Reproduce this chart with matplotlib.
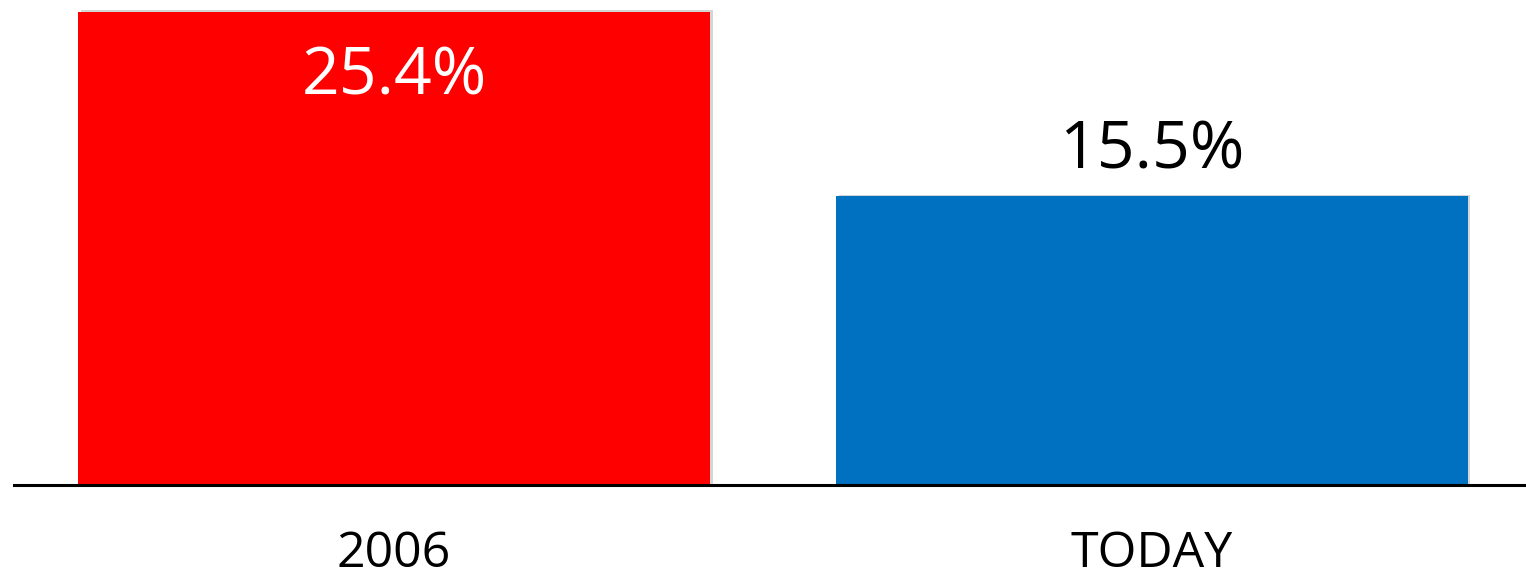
import matplotlib
matplotlib.use("Agg")
import matplotlib.pyplot as plt
import matplotlib.patheffects as pe

# datos del grafico
categorias = ["2006", "TODAY"]
valores = [25.4, 15.5]
etiquetas = ["25.4%", "15.5%"]
colores = ["#FF0000", "#0070C0"]

plt.rcParams["font.family"] = ["Open Sans", "DejaVu Sans"]

fig = plt.figure(figsize=(15.26, 5.8), dpi=100)
# eje horizontal a 485 px desde arriba, comienza en x = 14 px
ax = fig.add_axes([14 / 1526, 95 / 580, 1 - 14 / 1526, 485 / 580])

x = range(len(categorias))
barras = ax.bar(x, valores, width=0.834, color=colores, zorder=2)
# sombra suave de las barras
for b in barras:
    b.set_path_effects([pe.SimplePatchShadow(offset=(2, 1), shadow_rgbFace="#888888", alpha=0.35),
                        pe.Normal()])

ax.set_xlim(-0.5017, 1.494)
ax.set_ylim(0, 26.03)

# etiquetas de valor: la primera dentro de la barra en blanco, la segunda encima
ax.annotate(etiquetas[0], xy=(0, valores[0]), xytext=(0, -59.8), textcoords="offset points",
            ha="center", va="baseline", fontsize=47.5, color="white")
ax.annotate(etiquetas[1], xy=(1, valores[1]), xytext=(0, 20), textcoords="offset points",
            ha="center", va="baseline", fontsize=47.5, color="black")

# etiquetas de categoria debajo del eje
for i, cat in enumerate(categorias):
    ax.annotate(cat, xy=(i, 0), xycoords=("data", "axes fraction"),
                xytext=(0, -59), textcoords="offset points",
                ha="center", va="baseline", fontsize=36, color="black")

for lado in ["top", "right", "left"]:
    ax.spines[lado].set_visible(False)
ax.spines["bottom"].set_linewidth(2.2)
ax.spines["bottom"].set_color("black")
ax.spines["bottom"].set_zorder(3)
ax.set_xticks([])
ax.set_yticks([])

fig.savefig("out.png", dpi=100)
